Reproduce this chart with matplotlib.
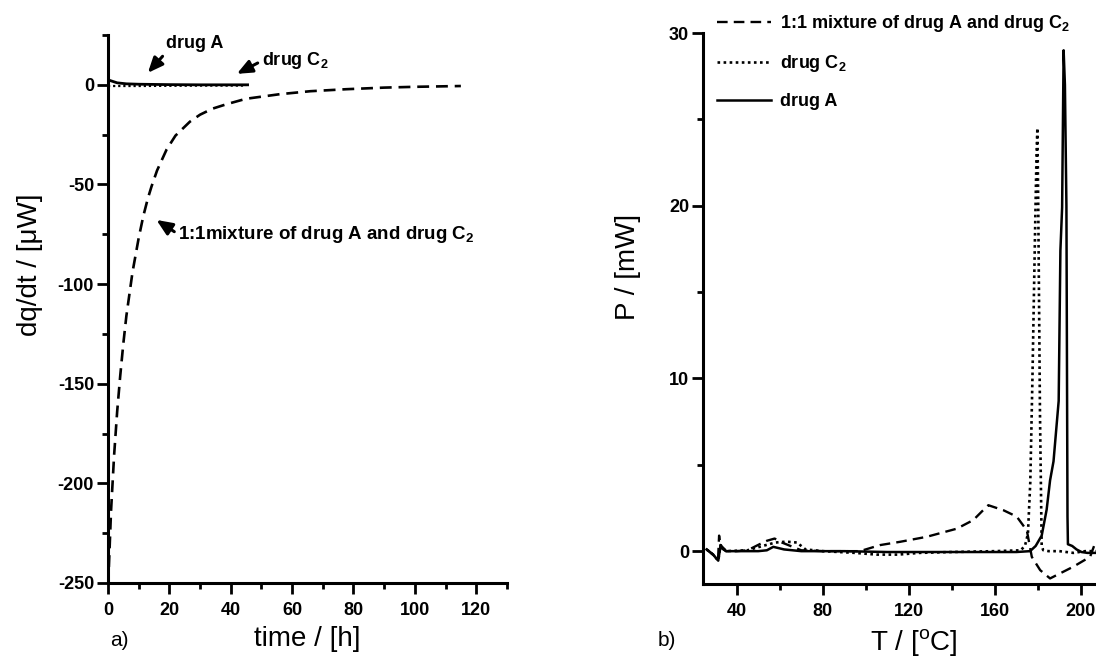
import matplotlib
matplotlib.use("Agg")
import matplotlib.pyplot as plt
from matplotlib.ticker import MultipleLocator

plt.rcParams["font.family"] = ["Liberation Sans", "DejaVu Sans"]
plt.rcParams["mathtext.default"] = "regular"
plt.rcParams["axes.unicode_minus"] = False

# a) isothermal microcalorimetry, dq/dt vs time
time_drugA = [0, 1, 3, 6, 10, 15, 20, 30, 40, 45.5]
dqdt_drugA = [2.5, 2, 1, 0.5, 0.3, 0.2, 0.1, 0, 0, 0]
time_drugC2 = [0, 5, 10, 20, 30, 40, 45]
dqdt_drugC2 = [-0.6, -0.6, -0.6, -0.5, -0.4, -0.4, -0.4]
time_mix = [0.3, 1, 2, 3, 4, 5, 6, 8, 10, 11.5, 13, 14.2, 16, 19.1, 22, 26.7, 30, 34, 38.7, 45, 56, 66,
            77.7, 90, 100, 115]
dqdt_mix = [-242, -214, -186, -164, -146, -130, -116, -94, -77, -66, -57, -51, -43, -32.5, -25.5, -18.5,
            -15, -12, -9.7, -7, -4.7, -3.2, -2.2, -1.4, -1, -0.6]

# b) DSC, P vs T
T_drugA = [26, 29, 31.4, 32.5, 35, 40, 50, 54, 57, 62, 70, 90, 110, 130, 150, 170, 176.4, 179, 181.8,
           184.1, 185.7, 187.3, 189.7, 190.5, 191.3, 192.0, 192.6, 193.3, 193.8, 194.0, 196, 198, 200.3,
           203, 215]
P_drugA = [0.1, -0.2, -0.55, 0.35, 0.0, 0.0, 0.0, 0.05, 0.25, 0.1, 0.0, 0.0, -0.05, -0.05, -0.05, -0.05,
           0.0, 0.3, 0.9, 2.4, 4.1, 5.2, 8.7, 17.4, 19.9, 29.0, 27.0, 20.0, 2.0, 0.4, 0.3, 0.1, -0.05,
           -0.1, -0.1]
T_drugC2 = [26, 29, 31.4, 32.5, 35, 45, 52, 58, 63, 68, 72, 80, 95, 105, 115, 125, 140, 160, 172, 174,
            175.4, 176.5, 177.5, 178.5, 179.4, 179.8, 180.2, 181, 181.8, 182.5, 185, 190, 196.5, 202, 215]
P_drugC2 = [0.1, -0.2, -0.55, 0.35, 0.0, 0.05, 0.3, 0.5, 0.55, 0.5, 0.1, 0.0, -0.1, -0.2, -0.2, -0.1,
            -0.05, 0, 0.05, 0.3, 1.0, 4, 10, 17, 23, 24.5, 20, 8, 0.3, 0.06, 0.0, 0.0, -0.1, 0.0, 0.0]
T_mix = [26, 29, 31.3, 31.8, 32.5, 35, 40, 45, 50.6, 54, 57.6, 61, 65, 70, 80, 90, 97.3, 106.6, 115.9,
         128.3, 142.3, 150, 154, 157, 164, 170.2, 174.9, 177.2, 181.1, 185.7, 190.3, 196.5, 204.3, 206.6,
         215]
P_mix = [0.1, -0.2, -0.5, 0.9, 0.2, 0.0, 0.0, 0.05, 0.4, 0.6, 0.73, 0.5, 0.3, 0.05, 0.0, 0.0, 0.0, 0.35,
         0.54, 0.83, 1.3, 1.8, 2.3, 2.66, 2.37, 2.0, 1.2, -0.33, -1.1, -1.58, -1.29, -0.9, -0.33, 0.45, 0.6]

DASH = (0, (4.5, 2.6))
DOT = (0, (1, 1.3))


def style_axes(ax):
    for side in ("top", "right"):
        ax.spines[side].set_visible(False)
    for side in ("left", "bottom"):
        ax.spines[side].set_linewidth(2.2)
    ax.tick_params(which="major", direction="out", length=8, width=2, labelsize=13)
    ax.tick_params(which="minor", direction="out", length=4, width=2)
    ax.tick_params(axis="y", pad=2)
    ax.tick_params(axis="x", pad=6)
    for lab in ax.get_xticklabels() + ax.get_yticklabels():
        lab.set_fontweight("bold")


fig = plt.figure(figsize=(10.96, 6.63), dpi=100)

# ---- panel a
ax1 = fig.add_axes([0.0985, 0.1207, 0.364, 0.8265])
ax1.plot(time_mix, dqdt_mix, color="k", lw=1.9, linestyle=DASH)
ax1.plot(time_drugC2, dqdt_drugC2, color="k", lw=1.6, linestyle=DOT)
ax1.plot(time_drugA, dqdt_drugA, color="k", lw=2.0)
ax1.set_xlim(0, 130)
ax1.set_ylim(-250, 25)
ax1.xaxis.set_major_locator(MultipleLocator(20))
ax1.xaxis.set_minor_locator(MultipleLocator(10))
ax1.yaxis.set_major_locator(MultipleLocator(50))
ax1.yaxis.set_minor_locator(MultipleLocator(25))
style_axes(ax1)
ax1.set_xlabel("time / [h]", fontsize=20, labelpad=5)
ax1.set_ylabel("dq/dt / [μW]", fontsize=20)
ax1.yaxis.set_label_coords(-0.162, 0.58)

arrow = dict(arrowstyle="-|>,head_length=0.7,head_width=0.3", color="k", lw=2.2, shrinkA=1, shrinkB=0)
ax1.annotate("drug A", xy=(13, 6), xytext=(18.9, 20.5), fontsize=13, fontweight="bold",
             va="center", ha="left", arrowprops=dict(arrow, relpos=(0, 0)))
ax1.annotate("drug C$_2$", xy=(42, 5.5), xytext=(50.1, 12), fontsize=13, fontweight="bold",
             va="center", ha="left", arrowprops=dict(arrow, relpos=(0, 0.5)))
ax1.annotate("1:1mixture of drug A and drug C$_2$", xy=(15.8, -67.8), xytext=(22.9, -75),
             fontsize=13.5, fontweight="bold", va="center", ha="left",
             arrowprops=dict(arrow, relpos=(0, 0.5)))
fig.text(119 / 1096, 1 - 640 / 663, "a)", fontsize=15, ha="center", va="center")

# ---- panel b
ax2 = fig.add_axes([0.6414, 0.1192, 0.384, 0.831])
ax2.plot(T_mix, P_mix, color="k", lw=1.7, linestyle=DASH, label="1:1 mixture of drug A and drug C$_2$")
ax2.plot(T_drugC2, P_drugC2, color="k", lw=1.9, linestyle=DOT, label="drug C$_2$")
ax2.plot(T_drugA, P_drugA, color="k", lw=1.8, label="drug A")
ax2.set_xlim(24.3, 220)
ax2.set_ylim(-1.9, 30)
ax2.xaxis.set_major_locator(MultipleLocator(40))
ax2.xaxis.set_minor_locator(MultipleLocator(20))
ax2.yaxis.set_major_locator(MultipleLocator(10))
ax2.yaxis.set_minor_locator(MultipleLocator(5))
style_axes(ax2)
ax2.set_xlabel("T / [$^{o}$C]", fontsize=20, labelpad=5)
ax2.set_ylabel("P / [mW]", fontsize=20)
ax2.yaxis.set_label_coords(-0.147, 0.575)
leg = ax2.legend(loc="upper left", bbox_to_anchor=(0.033, 1.036), frameon=False, borderpad=0,
                 borderaxespad=0, handlelength=3.0, handletextpad=0.5, labelspacing=1.05,
                 prop={"size": 13, "weight": "bold"})
fig.text(667 / 1096, 1 - 640 / 663, "b)", fontsize=15, ha="center", va="center")

fig.savefig("out.png", dpi=100)
